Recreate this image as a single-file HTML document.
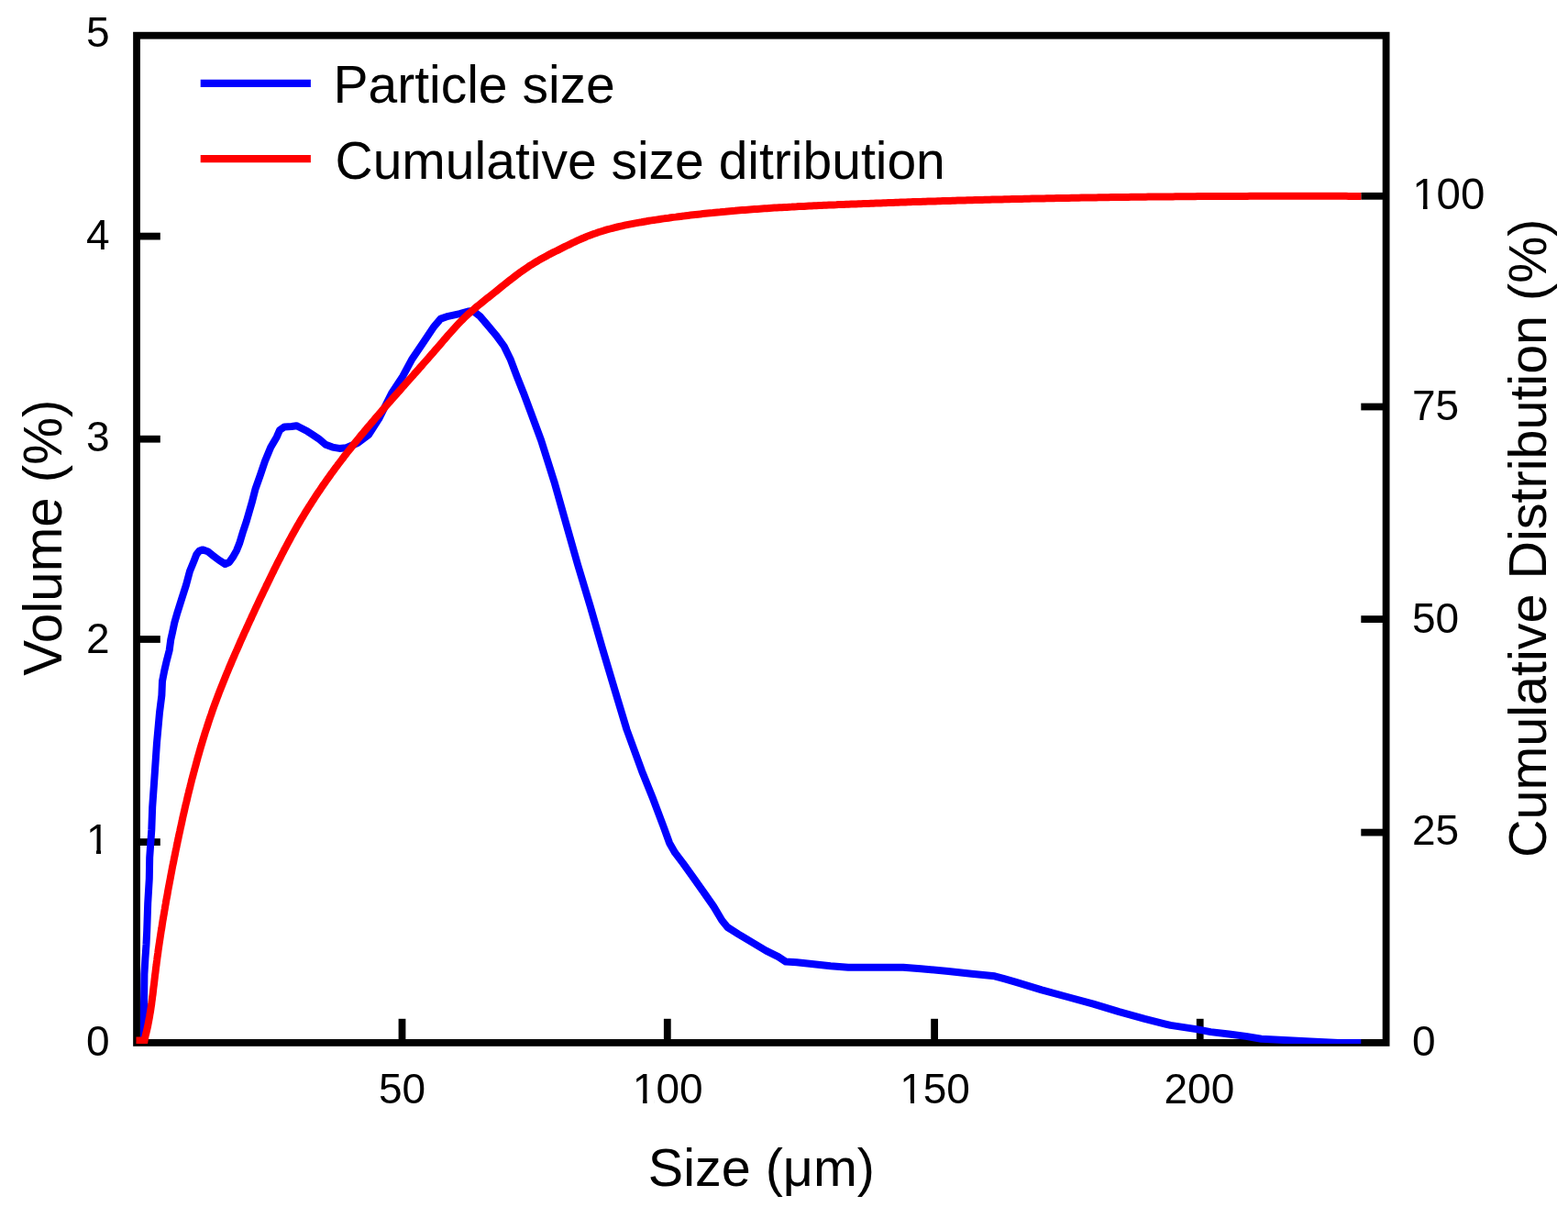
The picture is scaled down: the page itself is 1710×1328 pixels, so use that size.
<!DOCTYPE html>
<html><head><meta charset="utf-8"><title>Particle size distribution</title>
<style>
html,body{margin:0;padding:0;background:#fff;}
body{width:1710px;height:1328px;overflow:hidden;}
svg{display:block;}
text{font-family:"Liberation Sans",Arial,sans-serif;fill:#000;}
</style></head><body>
<svg width="1710" height="1328" viewBox="0 0 1710 1328">
<rect x="0" y="0" width="1710" height="1328" fill="#fff"/>
<g stroke="#000" stroke-width="7.8" fill="none" stroke-linecap="butt">
<rect x="149.05" y="38.7" width="1362.55" height="1098.20" stroke-linejoin="miter"/>
<line x1="149.1" y1="918.1" x2="174.8" y2="918.1"/>
<line x1="149.1" y1="697.0" x2="174.8" y2="697.0"/>
<line x1="149.1" y1="478.7" x2="174.8" y2="478.7"/>
<line x1="149.1" y1="257.6" x2="174.8" y2="257.6"/>
<line x1="1484.3" y1="907.6" x2="1511.6" y2="907.6"/>
<line x1="1484.3" y1="675.1" x2="1511.6" y2="675.1"/>
<line x1="1484.3" y1="443.5" x2="1511.6" y2="443.5"/>
<line x1="1484.3" y1="213.8" x2="1511.6" y2="213.8"/>
<line x1="438.5" y1="1136.9" x2="438.5" y2="1110.8"/>
<line x1="727.8" y1="1136.9" x2="727.8" y2="1110.8"/>
<line x1="1019.1" y1="1136.9" x2="1019.1" y2="1110.8"/>
<line x1="1308.7" y1="1136.9" x2="1308.7" y2="1110.8"/>
</g>
<g font-size="46">
<text x="119.5" y="50.9" text-anchor="end">5</text>
<text x="119.5" y="272.3" text-anchor="end">4</text>
<text x="119.5" y="492.3" text-anchor="end">3</text>
<text x="119.5" y="711.9" text-anchor="end">2</text>
<text x="119.5" y="930.8" text-anchor="end">1</text>
<text x="119.5" y="1151.3" text-anchor="end">0</text>
<text x="438.5" y="1203" text-anchor="middle">50</text>
<text x="728.1999999999999" y="1203" text-anchor="middle">100</text>
<text x="1019.5" y="1203" text-anchor="middle">150</text>
<text x="1307.9" y="1203" text-anchor="middle">200</text>
<text x="1540" y="1150.6">0</text>
<text x="1540" y="921.2">25</text>
<text x="1540" y="689.8">50</text>
<text x="1540" y="457.5">75</text>
<text x="1540.2" y="228.3" font-size="47.5">100</text>
</g>
<g fill="#fff">
<rect x="96" y="927" width="9" height="4"/><rect x="110" y="927" width="9" height="4"/>
<rect x="692" y="1199" width="9" height="4"/><rect x="705.6" y="1199" width="8" height="4"/>
<rect x="983" y="1199" width="10" height="4"/><rect x="997" y="1199" width="8.5" height="4"/>
<rect x="1543" y="224" width="9" height="4"/><rect x="1556.6" y="224" width="9" height="4"/>
</g>
<g font-size="57.5">
<text x="706.8" y="1293.2">Size (μm)</text>
<text transform="translate(67.2,736.8) rotate(-90)" font-size="58.3">Volume (%)</text>
<text transform="translate(1685.7,935.1) rotate(-90)">Cumulative Distribution (%)</text>
</g>
<g font-size="57">
<text x="363.5" y="111.5">Particle size</text>
<text x="365.5" y="195.2">Cumulative size ditribution</text>
</g>
<line x1="218.7" y1="90.9" x2="338.9" y2="90.9" stroke="#0000ff" stroke-width="8.2"/>
<line x1="218.7" y1="173.1" x2="338.9" y2="173.1" stroke="#ff0000" stroke-width="8.2"/>
<defs><clipPath id="pc"><rect x="0" y="0" width="1710" height="1138.1"/></clipPath></defs>
<g clip-path="url(#pc)">
<polyline fill="none" stroke="#0000ff" stroke-width="8" stroke-linejoin="round" points="156.9,1137.0 157.0,1095.0 157.4,1062.0 158.4,1045.0 159.5,1030.0 160.2,1015.0 161.2,985.0 162.8,958.0 163.2,935.0 165.3,905.0 166.2,880.0 168.3,850.0 171.0,810.0 174.0,777.0 176.4,757.9 177.0,742.8 179.2,731.5 181.8,720.2 184.7,708.9 186.2,697.7 187.9,690.1 190.3,678.8 193.5,667.7 198.2,652.8 203.0,637.8 207.0,622.7 211.6,611.4 214.3,604.5 217.5,600.5 221.0,599.4 226.5,601.2 232.7,606.1 238.7,610.7 245.5,615.0 250.0,613.0 253.8,607.7 258.1,600.1 261.1,592.6 264.5,581.3 268.9,568.0 274.7,547.9 278.6,532.8 283.9,517.8 289.0,502.7 295.2,487.7 301.8,476.4 305.0,469.0 310.0,465.5 318.0,465.0 323.3,464.2 328.0,466.5 335.3,470.3 340.0,473.3 347.5,478.3 355.1,484.8 362.6,487.6 370.1,488.9 377.7,488.2 390.0,483.0 402.0,474.0 413.2,456.6 427.0,429.0 439.2,410.4 448.9,392.3 461.1,374.2 473.3,356.1 480.5,347.6 488.7,344.8 501.3,342.1 510.4,339.5 516.0,339.0 523.5,344.8 531.6,354.3 540.7,365.2 549.7,377.5 556.9,392.3 563.7,410.4 570.9,428.4 579.2,450.6 590.1,480.0 604.4,525.2 617.2,570.4 630.0,615.5 643.6,660.7 656.4,705.2 669.9,750.4 683.5,795.5 700.0,840.7 711.8,870.1 724.1,902.6 730.1,919.2 736.1,929.7 745.2,941.7 757.2,958.3 767.8,973.4 778.3,988.4 787.3,1003.5 793.4,1011.0 805.4,1018.6 820.5,1027.6 835.5,1036.6 848.7,1043.2 857.0,1048.6 868.8,1049.2 880.5,1050.5 905.8,1053.3 925.0,1054.7 985.0,1054.8 1004.3,1056.3 1034.3,1059.0 1059.5,1061.8 1084.8,1064.3 1095.1,1067.1 1108.1,1070.9 1136.1,1079.3 1164.2,1087.0 1192.3,1094.7 1220.4,1103.2 1248.4,1110.9 1276.5,1117.9 1304.6,1122.1 1320.2,1125.1 1340.3,1127.5 1358.7,1129.9 1375.6,1132.7 1429.0,1135.5 1460.0,1136.9 1484.3,1137.0"/>
<polyline fill="none" stroke="#ff0000" stroke-width="8" stroke-linejoin="miter" stroke-miterlimit="10" points="148.5,1134.5 157.6,1134.5 158.6,1129.5 159.3,1126.9 159.9,1124.2 160.5,1121.6 161.1,1119.0 161.6,1116.3 162.1,1113.7 162.6,1111.0 163.1,1108.4 163.5,1105.7 164.0,1103.1 164.4,1100.4 164.8,1097.7 165.2,1095.1 165.5,1092.4 165.9,1089.7 166.2,1087.0 166.6,1084.4 166.9,1081.7 167.2,1079.0 167.5,1076.3 167.9,1073.6 168.2,1071.0 168.5,1068.3 168.8,1065.6 169.1,1062.9 169.5,1060.2 169.8,1057.5 170.1,1054.8 170.5,1052.2 170.8,1049.5 171.2,1046.8 171.5,1044.1 171.9,1041.4 172.3,1038.8 172.6,1036.1 173.0,1033.4 173.4,1030.7 173.8,1028.0 174.2,1025.4 174.6,1022.7 175.0,1020.0 175.4,1017.3 175.8,1014.7 176.3,1012.0 176.7,1009.3 177.1,1006.7 177.5,1004.0 178.0,1001.3 178.4,998.7 178.9,996.0 179.3,993.4 179.8,990.7 180.2,988.0 180.7,985.4 181.1,982.7 181.6,980.1 182.1,977.4 182.6,974.8 183.0,972.1 183.5,969.5 184.0,966.8 184.5,964.2 185.0,961.5 185.5,958.9 186.0,956.2 186.5,953.6 187.0,950.9 187.5,948.3 188.0,945.6 188.5,943.0 189.1,940.4 189.6,937.7 190.1,935.1 190.7,932.4 191.2,929.8 191.7,927.2 192.3,924.5 192.8,921.9 193.4,919.2 193.9,916.6 194.5,914.0 195.0,911.3 195.6,908.7 196.2,906.0 196.7,903.4 197.3,900.8 197.9,898.1 198.5,895.5 199.0,892.9 199.6,890.2 200.2,887.6 200.8,885.0 201.4,882.3 202.0,879.7 202.6,877.1 203.3,874.4 203.9,871.8 204.5,869.2 205.1,866.6 205.8,863.9 206.4,861.3 207.1,858.7 207.7,856.1 208.4,853.4 209.0,850.8 209.7,848.2 210.4,845.6 211.1,843.0 211.8,840.4 212.5,837.8 213.2,835.2 213.9,832.6 214.6,830.0 215.3,827.4 216.0,824.8 216.8,822.2 217.5,819.6 218.3,817.0 219.0,814.4 219.8,811.8 220.6,809.2 221.3,806.7 222.1,804.1 222.9,801.5 223.7,798.9 224.5,796.4 225.4,793.8 226.2,791.2 227.0,788.7 227.9,786.1 228.7,783.6 229.6,781.0 230.5,778.5 231.3,776.0 232.2,773.4 233.1,770.9 234.0,768.4 235.0,765.8 235.9,763.3 236.8,760.8 237.8,758.3 238.7,755.8 239.7,753.3 240.7,750.8 241.7,748.3 242.7,745.8 243.7,743.3 244.7,740.8 245.7,738.3 246.7,735.8 247.7,733.3 248.8,730.8 249.8,728.3 250.8,725.9 251.9,723.4 252.9,720.9 254.0,718.4 255.1,716.0 256.1,713.5 257.2,711.0 258.3,708.6 259.4,706.1 260.5,703.6 261.5,701.2 262.6,698.7 263.7,696.3 264.8,693.8 265.9,691.3 267.0,688.9 268.2,686.4 269.3,684.0 270.4,681.5 271.5,679.1 272.6,676.6 273.8,674.2 274.9,671.7 276.0,669.3 277.2,666.8 278.3,664.4 279.4,661.9 280.6,659.5 281.7,657.1 282.9,654.6 284.0,652.2 285.2,649.7 286.4,647.3 287.5,644.9 288.7,642.4 289.9,640.0 291.0,637.6 292.2,635.2 293.4,632.7 294.6,630.3 295.7,627.9 296.9,625.5 298.1,623.1 299.3,620.6 300.5,618.2 301.7,615.8 302.9,613.4 304.1,611.0 305.4,608.6 306.6,606.2 307.8,603.8 309.1,601.4 310.3,599.0 311.6,596.7 312.8,594.3 314.1,591.9 315.4,589.5 316.7,587.2 317.9,584.8 319.2,582.5 320.6,580.1 321.9,577.8 323.2,575.4 324.5,573.1 325.9,570.8 327.2,568.5 328.6,566.1 330.0,563.8 331.4,561.5 332.8,559.2 334.2,556.9 335.6,554.7 337.0,552.4 338.5,550.1 339.9,547.8 341.4,545.6 342.8,543.3 344.3,541.1 345.8,538.8 347.3,536.6 348.8,534.4 350.3,532.1 351.8,529.9 353.4,527.7 354.9,525.5 356.4,523.3 358.0,521.1 359.6,518.9 361.1,516.7 362.7,514.6 364.3,512.4 365.9,510.2 367.5,508.1 369.1,505.9 370.7,503.8 372.4,501.6 374.0,499.5 375.6,497.3 377.3,495.2 378.9,493.1 380.6,491.0 382.3,488.9 384.0,486.8 385.6,484.7 387.3,482.6 389.0,480.5 390.7,478.4 392.4,476.3 394.1,474.2 395.9,472.2 397.6,470.1 399.3,468.0 401.0,465.9 402.8,463.9 404.5,461.8 406.3,459.8 408.0,457.7 409.7,455.7 411.5,453.6 413.3,451.6 415.0,449.5 416.8,447.5 418.6,445.5 420.3,443.4 422.1,441.4 423.9,439.4 425.7,437.4 427.4,435.3 429.2,433.3 431.0,431.3 432.8,429.3 434.6,427.2 436.4,425.2 438.2,423.2 439.9,421.2 441.7,419.2 443.5,417.1 445.3,415.1 447.1,413.1 448.9,411.1 450.7,409.1 452.5,407.0 454.3,405.0 456.1,403.0 457.8,401.0 459.6,399.0 461.4,396.9 463.2,394.9 465.0,392.9 466.8,390.9 468.5,388.8 470.3,386.8 472.1,384.8 473.9,382.7 475.6,380.7 477.4,378.7 479.2,376.6 480.9,374.6 482.7,372.5 484.4,370.5 486.2,368.5 487.9,366.4 489.7,364.4 491.5,362.4 493.3,360.4 495.1,358.4 496.9,356.4 498.7,354.4 500.5,352.4 502.4,350.5 504.3,348.6 506.2,346.7 508.1,344.9 510.1,343.0 512.1,341.2 514.1,339.4 516.1,337.7 518.2,335.9 520.2,334.2 522.3,332.5 524.4,330.8 526.5,329.1 528.6,327.4 530.7,325.7 532.9,324.0 535.0,322.3 537.1,320.7 539.2,319.0 541.3,317.3 543.4,315.6 545.5,313.9 547.6,312.2 549.7,310.5 551.8,308.8 553.9,307.1 556.0,305.5 558.2,303.8 560.3,302.2 562.5,300.5 564.6,298.9 566.8,297.3 569.0,295.8 571.2,294.2 573.4,292.7 575.6,291.2 577.8,289.7 580.1,288.3 582.4,286.9 584.7,285.5 587.0,284.1 589.3,282.8 591.6,281.5 594.0,280.2 596.3,278.9 598.7,277.6 601.1,276.4 603.5,275.2 605.9,274.0 608.3,272.8 610.7,271.6 613.1,270.4 615.5,269.2 617.9,268.0 620.4,266.8 622.8,265.6 625.2,264.5 627.6,263.3 630.1,262.2 632.5,261.1 635.0,260.0 637.5,259.0 639.9,257.9 642.4,256.9 644.9,256.0 647.5,255.0 650.0,254.2 652.5,253.3 655.1,252.5 657.6,251.7 660.2,250.9 662.8,250.2 665.4,249.5 668.0,248.8 670.6,248.1 673.2,247.5 675.8,246.9 678.4,246.3 681.1,245.7 683.7,245.1 686.3,244.6 689.0,244.1 691.6,243.6 694.3,243.1 697.0,242.6 699.6,242.2 702.3,241.7 705.0,241.3 707.6,240.8 710.3,240.4 713.0,240.0 715.6,239.6 718.3,239.2 721.0,238.8 723.7,238.4 726.3,238.0 729.0,237.7 731.7,237.3 734.4,236.9 737.0,236.6 739.7,236.2 742.4,235.9 745.1,235.6 747.7,235.2 750.4,234.9 753.1,234.6 755.8,234.3 758.5,234.0 761.1,233.7 763.8,233.4 766.5,233.1 769.2,232.8 771.9,232.5 774.6,232.2 777.3,232.0 779.9,231.7 782.6,231.4 785.3,231.2 788.0,230.9 790.7,230.7 793.4,230.4 796.1,230.2 798.8,230.0 801.4,229.8 804.1,229.5 806.8,229.3 809.5,229.1 812.2,228.9 814.9,228.7 817.6,228.5 820.3,228.3 823.0,228.1 825.7,227.9 828.4,227.7 831.1,227.5 833.7,227.3 836.4,227.2 839.1,227.0 841.8,226.8 844.5,226.6 847.2,226.5 849.9,226.3 852.6,226.2 855.3,226.0 858.0,225.9 860.7,225.7 863.4,225.6 866.1,225.4 868.8,225.3 871.5,225.1 874.2,225.0 876.9,224.9 879.6,224.7 882.3,224.6 885.0,224.5 887.7,224.3 890.4,224.2 893.1,224.1 895.8,224.0 898.5,223.8 901.2,223.7 903.9,223.6 906.6,223.5 909.3,223.4 912.0,223.3 914.7,223.1 917.4,223.0 920.1,222.9 922.8,222.8 925.5,222.7 928.2,222.6 930.9,222.5 933.6,222.4 936.3,222.3 939.0,222.2 941.7,222.1 944.4,222.0 947.1,221.9 949.8,221.8 952.5,221.7 955.2,221.6 957.9,221.5 960.6,221.4 963.3,221.3 966.0,221.2 968.7,221.1 971.4,221.0 974.1,220.9 976.8,220.8 979.5,220.7 982.2,220.6 984.9,220.5 987.6,220.4 990.3,220.3 993.0,220.2 995.7,220.1 998.4,220.0 1001.1,220.0 1003.8,219.9 1006.5,219.8 1009.2,219.7 1011.9,219.6 1014.6,219.5 1017.3,219.4 1020.0,219.4 1022.7,219.3 1025.4,219.2 1028.1,219.1 1030.7,219.0 1033.4,219.0 1036.1,218.9 1038.8,218.8 1041.5,218.7 1044.2,218.6 1046.9,218.6 1049.6,218.5 1052.3,218.4 1055.0,218.3 1057.7,218.3 1060.4,218.2 1063.1,218.1 1065.8,218.1 1068.5,218.0 1071.2,217.9 1073.9,217.8 1076.6,217.8 1079.3,217.7 1082.0,217.6 1084.7,217.6 1087.4,217.5 1090.1,217.4 1092.8,217.4 1095.5,217.3 1098.2,217.2 1100.9,217.2 1103.6,217.1 1106.3,217.1 1109.0,217.0 1111.7,216.9 1114.4,216.9 1117.1,216.8 1119.8,216.8 1122.5,216.7 1125.2,216.6 1127.9,216.6 1130.6,216.5 1133.3,216.5 1136.0,216.4 1138.7,216.4 1141.4,216.3 1144.1,216.3 1146.8,216.2 1149.5,216.2 1152.2,216.1 1154.9,216.0 1157.6,216.0 1160.3,216.0 1163.0,215.9 1165.7,215.9 1168.4,215.8 1171.1,215.8 1173.8,215.7 1176.5,215.7 1179.2,215.6 1181.9,215.6 1184.6,215.5 1187.3,215.5 1190.0,215.4 1192.7,215.4 1195.4,215.4 1198.1,215.3 1200.8,215.3 1203.5,215.2 1206.2,215.2 1208.9,215.2 1211.6,215.1 1214.3,215.1 1217.0,215.1 1219.7,215.0 1222.4,215.0 1225.1,214.9 1227.8,214.9 1230.5,214.9 1233.2,214.8 1235.9,214.8 1238.6,214.8 1241.3,214.7 1244.0,214.7 1246.7,214.7 1249.4,214.7 1252.1,214.6 1254.8,214.6 1257.5,214.6 1260.2,214.5 1262.9,214.5 1265.6,214.5 1268.3,214.5 1271.0,214.4 1273.7,214.4 1276.4,214.4 1279.1,214.4 1281.8,214.3 1284.5,214.3 1287.2,214.3 1289.9,214.3 1292.6,214.2 1295.3,214.2 1298.0,214.2 1300.7,214.2 1303.4,214.2 1306.1,214.1 1308.8,214.1 1311.5,214.1 1314.2,214.1 1316.9,214.1 1319.6,214.0 1322.3,214.0 1325.0,214.0 1327.7,214.0 1330.4,214.0 1333.1,214.0 1335.8,214.0 1338.5,213.9 1341.2,213.9 1343.9,213.9 1346.6,213.9 1349.3,213.9 1352.0,213.9 1354.7,213.9 1357.4,213.9 1360.1,213.9 1362.8,213.8 1365.5,213.8 1368.2,213.8 1370.9,213.8 1373.6,213.8 1376.3,213.8 1379.0,213.8 1381.7,213.8 1384.4,213.8 1387.1,213.8 1389.8,213.8 1392.5,213.8 1395.2,213.8 1397.9,213.8 1400.6,213.8 1403.3,213.8 1406.0,213.8 1408.7,213.8 1411.4,213.8 1414.1,213.8 1416.8,213.8 1419.5,213.8 1422.2,213.8 1424.9,213.8 1427.6,213.8 1430.3,213.8 1433.0,213.8 1435.7,213.8 1438.4,213.8 1441.1,213.8 1443.8,213.8 1446.5,213.8 1449.2,213.8 1451.9,213.8 1454.6,213.8 1457.3,213.8 1460.0,213.8 1462.7,213.8 1465.4,213.8 1468.1,213.8 1470.8,213.9 1473.5,213.9 1476.2,213.9 1478.9,213.9 1481.6,213.9 1484.3,213.9"/>
</g>
</svg>
</body></html>
